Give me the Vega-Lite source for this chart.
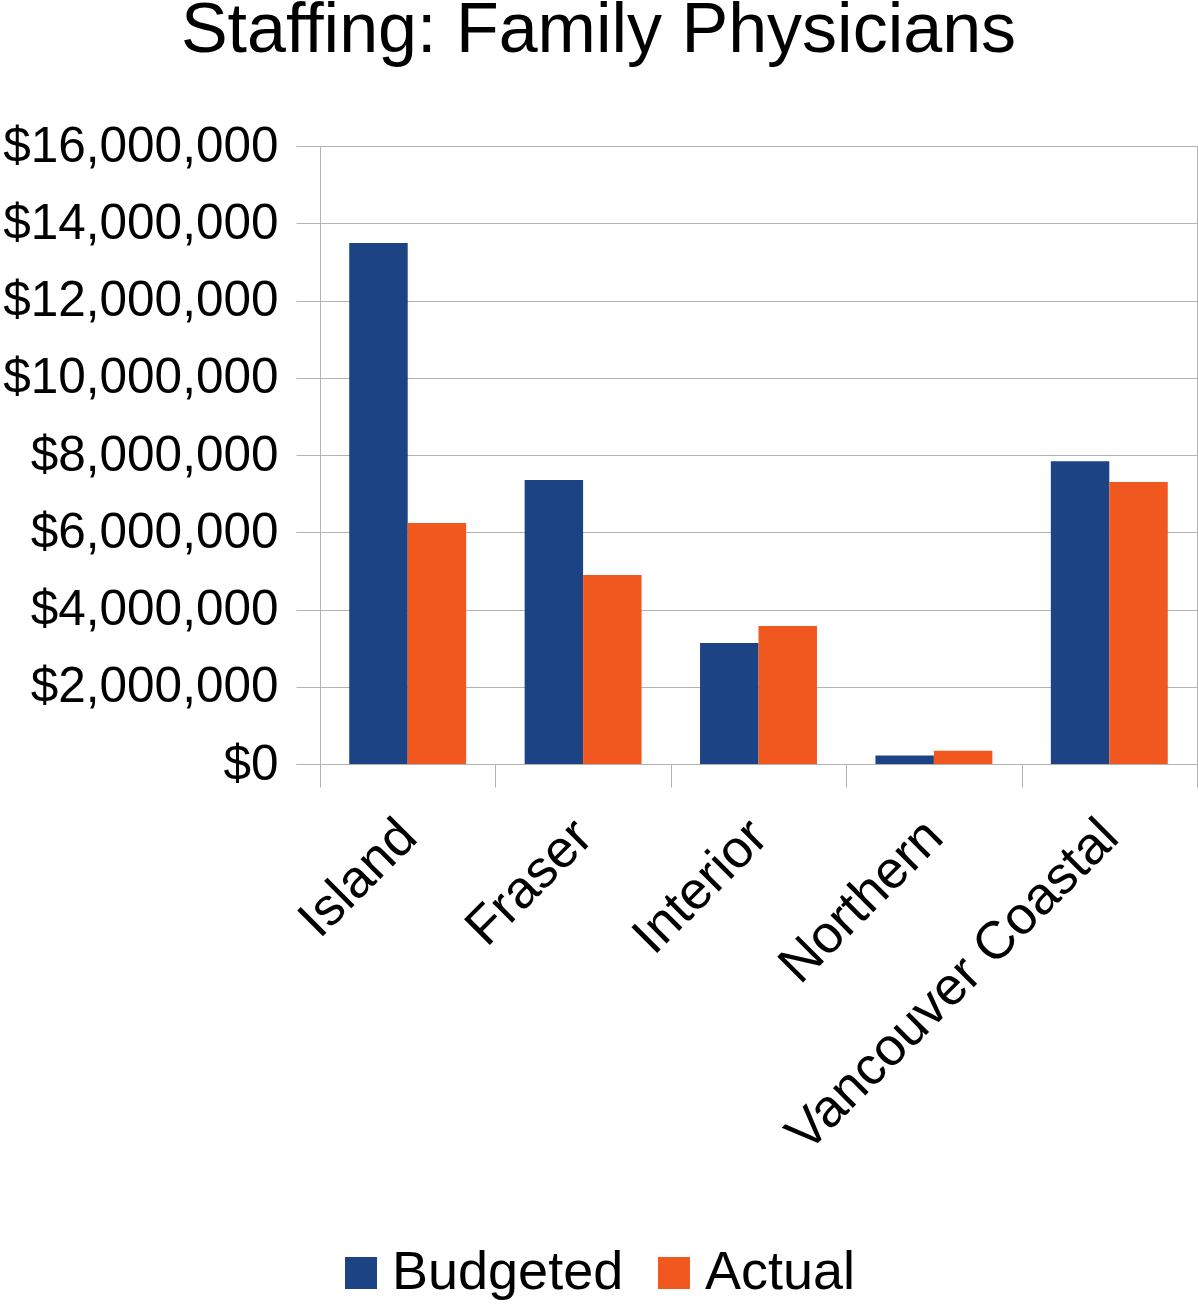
{
  "$schema": "https://vega.github.io/schema/vega-lite/v6.json",
  "autosize": "none",
  "width": 877,
  "height": 618,
  "padding": {"left": 320, "top": 146, "right": 1, "bottom": 541},
  "background": "white",
  "title": {
    "text": "Staffing: Family Physicians",
    "font": "Liberation Sans",
    "fontSize": 70,
    "fontWeight": "normal",
    "color": "black",
    "anchor": "middle",
    "frame": "group",
    "baseline": "alphabetic",
    "dx": -160,
    "offset": -1
  },
  "data": {
    "values": [
      {"region": "Island", "type": "Budgeted", "value": 13490000},
      {"region": "Island", "type": "Actual", "value": 6240000},
      {"region": "Fraser", "type": "Budgeted", "value": 7350000},
      {"region": "Fraser", "type": "Actual", "value": 4890000},
      {"region": "Interior", "type": "Budgeted", "value": 3130000},
      {"region": "Interior", "type": "Actual", "value": 3570000},
      {"region": "Northern", "type": "Budgeted", "value": 220000},
      {"region": "Northern", "type": "Actual", "value": 340000},
      {"region": "Vancouver Coastal", "type": "Budgeted", "value": 7840000},
      {"region": "Vancouver Coastal", "type": "Actual", "value": 7300000}
    ]
  },
  "mark": {"type": "bar"},
  "encoding": {
    "x": {
      "field": "region",
      "type": "nominal",
      "sort": ["Island", "Fraser", "Interior", "Northern", "Vancouver Coastal"],
      "scale": {"paddingInner": 0, "paddingOuter": 0},
      "axis": {
        "title": null,
        "labelAngle": -45,
        "labelAlign": "right",
        "labelBaseline": "middle",
        "labelFont": "Liberation Sans",
        "labelFontSize": 53,
        "labelColor": "black",
        "labelPadding": 41,
        "labelLimit": 0,
        "tickBand": "extent",
        "tickSize": 23,
        "tickColor": "#b3b3b3",
        "domainColor": "#b3b3b3",
        "grid": false,
        "labelOverlap": false
      }
    },
    "xOffset": {
      "field": "type",
      "type": "nominal",
      "sort": ["Budgeted", "Actual"],
      "scale": {"paddingInner": 0, "paddingOuter": 0.5}
    },
    "y": {
      "field": "value",
      "type": "quantitative",
      "scale": {"domain": [0, 16000000]},
      "axis": {
        "title": null,
        "values": [0, 2000000, 4000000, 6000000, 8000000, 10000000, 12000000, 14000000, 16000000],
        "format": "$,.0f",
        "labelFont": "Liberation Sans",
        "labelFontSize": 49.5,
        "labelColor": "black",
        "labelPadding": 18,
        "labelLimit": 0,
        "tickSize": 24,
        "tickColor": "#b3b3b3",
        "gridColor": "#b3b3b3",
        "domainColor": "#b3b3b3",
        "labelFlush": false,
        "labelOverlap": false
      }
    },
    "color": {
      "field": "type",
      "type": "nominal",
      "sort": ["Budgeted", "Actual"],
      "scale": {"domain": ["Budgeted", "Actual"], "range": ["#1c4384", "#f0581f"]},
      "legend": {
        "title": null,
        "orient": "none",
        "direction": "horizontal",
        "legendX": 14,
        "legendY": 1100,
        "padding": 0,
        "symbolType": "square",
        "symbolSize": 1024,
        "symbolStrokeWidth": 0,
        "symbolOpacity": 1,
        "labelFont": "Liberation Sans",
        "labelFontSize": 54,
        "labelColor": "black",
        "labelOffset": 4,
        "labelLimit": 0,
        "columnPadding": 23
      }
    }
  },
  "config": {
    "view": {"stroke": "#b3b3b3"},
    "axis": {"gridWidth": 1, "tickWidth": 1, "domainWidth": 1}
  }
}
